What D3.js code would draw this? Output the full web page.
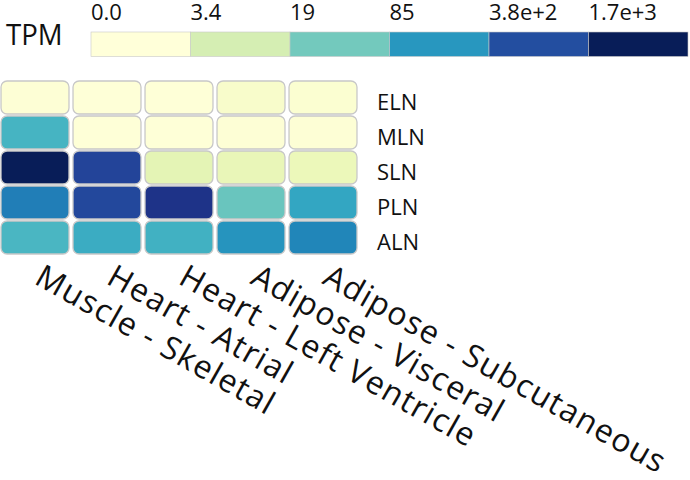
<!DOCTYPE html>
<html><head><meta charset="utf-8">
<script src="https://cdn.jsdelivr.net/npm/d3@7"></script>
<style>body{margin:0;background:#fff}svg{display:block}text{font-family:"Open Sans",sans-serif;fill:#111}</style>
</head><body><svg id="c" width="690" height="480"></svg>
<script>
const tissues = ["Muscle - Skeletal","Heart - Atrial","Heart - Left Ventricle","Adipose - Visceral","Adipose - Subcutaneous"];
const genes = ["ELN","MLN","SLN","PLN","ALN"];
const ELN = [0.1, 0.05, 0.05, 0.4, 0.2];
const MLN = [40, 0.05, 0.05, 0.1, 0.1];
const SLN = [1700, 480, 2.05, 1.6, 1.3];
const PLN = [145, 440, 750, 22, 60];
const ALN = [37, 50, 44, 93, 125];
const legendTicks = ["0.0","3.4","19","85","3.8e+2","1.7e+3"];
const maxTPM = 1700;

const rows = [ELN, MLN, SLN, PLN, ALN];
const cells = [];
rows.forEach((r,i)=>r.forEach((v,j)=>cells.push({gene:genes[i], tissue:tissues[j], v})));

const svg = d3.select("#c");
const t = d3.scaleLog().domain([1, maxTPM+1]).range([0,1]);
const color = v => d3.interpolateYlGnBu(Math.max(0, t(v+1)));

const x = d3.scaleBand().domain(tissues).range([-1, 359]).paddingInner(0.056).paddingOuter(0.028);
const y = d3.scaleBand().domain(genes).range([80, 255]).paddingInner(0.057).paddingOuter(0.0285);

svg.selectAll("rect.cell").data(cells).join("rect").attr("class","cell")
  .attr("x", d=>x(d.tissue)).attr("y", d=>y(d.gene))
  .attr("width", x.bandwidth()).attr("height", y.bandwidth())
  .attr("rx", 6).attr("ry", 6)
  .attr("fill", d=>color(d.v)).attr("stroke", "#c8c8c8").attr("stroke-width", 1.3);

svg.selectAll("text.row").data(genes).join("text").attr("class","row")
  .attr("x", 377).attr("y", d=>y(d)+y.bandwidth()/2+12.5)
  .attr("font-size", 22).text(d=>d);

svg.selectAll("text.col").data(tissues).join("text").attr("class","col")
  .attr("transform", d=>`translate(${x(d)+x.bandwidth()/2-2},283) rotate(29.5)`)
  .attr("font-size", 32).attr("letter-spacing", 1.3).text(d=>d);

// legend
const lx = d3.scaleBand().domain(d3.range(legendTicks.length)).range([91, 688]);
svg.selectAll("rect.leg").data(legendTicks).join("rect").attr("class","leg")
  .attr("x", (d,i)=>lx(i)).attr("y", 32).attr("width", lx.bandwidth()).attr("height", 24.5)
  .attr("fill", (d,i)=>d3.interpolateYlGnBu(i/(legendTicks.length-1)))
  .attr("stroke", "#c8c8c8").attr("stroke-width", 0.6);
svg.selectAll("text.leg").data(legendTicks).join("text").attr("class","leg")
  .attr("x", (d,i)=>lx(i)).attr("y", 20).attr("font-size", 22).text(d=>d);
svg.append("text").attr("transform", "translate(6,45) scale(0.92,1)").attr("font-size", 30).text("TPM");
</script></body></html>
